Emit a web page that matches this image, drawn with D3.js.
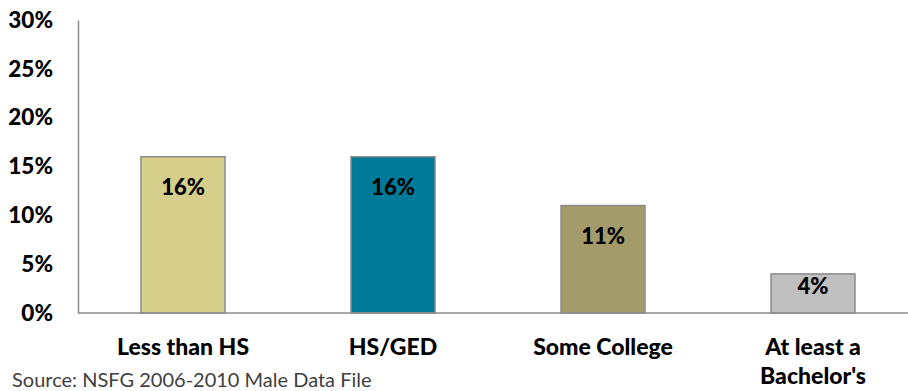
<!DOCTYPE html>
<html>
<head>
<meta charset="utf-8">
<script src="https://cdn.jsdelivr.net/npm/d3@7/dist/d3.min.js"></script>
<style>
  html, body { margin: 0; padding: 0; background: #fff; }
  svg { display: block; }
  text { font-family: Lato, "Open Sans", sans-serif; }
</style>
</head>
<body>
<svg id="chart" width="908" height="391"></svg>
<script>
// Share by education level
const categories = ["Less than HS", "HS/GED", "Some College", "At least a Bachelor's"];
const labelLines = [["Less than HS"], ["HS/GED"], ["Some College"], ["At least a", "Bachelor's"]];
const values = [16, 16, 11, 4];
const barColors = ["#D6CE8B", "#007A99", "#A39B6A", "#C0C0C0"];
const yTicks = [0, 5, 10, 15, 20, 25, 30];
const sourceNote = "Source: NSFG 2006-2010 Male Data File";

const svg = d3.select("#chart");
const plotLeft = 78, plotRight = 918, plotTop = 20, plotBottom = 313;

const x = d3.scaleBand().domain(categories).range([plotLeft, plotRight]).paddingInner(0.6).paddingOuter(0.3);
const y = d3.scaleLinear().domain([0, 30]).range([plotBottom, plotTop]);

// y axis labels
const yAxis = d3.axisLeft(y).tickValues(yTicks).tickSize(0).tickPadding(25).tickFormat(d => d + "%");
const yg = svg.append("g").attr("transform", `translate(${plotLeft},0)`).call(yAxis);
yg.select(".domain").attr("stroke", "#8c8c8c").attr("stroke-width", 1.5);
yg.selectAll("text").attr("font-size", 22.5).attr("font-weight", 900).attr("fill", "#000")
  .attr("font-family", "Lato, sans-serif");

// bars
svg.append("g").selectAll("rect").data(values).join("rect")
  .attr("x", (d, i) => x(categories[i]))
  .attr("y", d => y(d))
  .attr("width", x.bandwidth())
  .attr("height", d => y(0) - y(d))
  .attr("fill", (d, i) => barColors[i])
  .attr("stroke", "#8a8a8a")
  .attr("stroke-width", 1.5);

// x axis baseline
svg.append("line")
  .attr("x1", plotLeft).attr("x2", 908)
  .attr("y1", y(0)).attr("y2", y(0))
  .attr("stroke", "#8c8c8c").attr("stroke-width", 1.5);

// value labels
svg.append("g").selectAll("text").data(values).join("text")
  .attr("x", (d, i) => x(categories[i]) + x.bandwidth() / 2)
  .attr("y", d => (y(0) - y(d) < 60) ? y(d) + 20 : y(d) + 38)
  .attr("text-anchor", "middle")
  .attr("font-size", 22).attr("font-weight", 900).attr("fill", "#000")
  .text(d => d + "%");

// category labels
const cat = svg.append("g").selectAll("text").data(categories).join("text")
  .attr("x", d => x(d) + x.bandwidth() / 2)
  .attr("y", 355)
  .attr("text-anchor", "middle")
  .attr("font-size", 23).attr("font-weight", 900).attr("fill", "#000");
cat.selectAll("tspan").data((d, i) => labelLines[i]).join("tspan")
  .attr("x", function() { return d3.select(this.parentNode).attr("x"); })
  .attr("dy", (d, i) => i === 0 ? 0 : 29)
  .text(d => d);

// source note
svg.append("text")
  .attr("x", 12).attr("y", 387)
  .attr("font-family", "'Open Sans', sans-serif")
  .attr("font-size", 20).attr("fill", "#404040")
  .text(sourceNote);
</script>
</body>
</html>
